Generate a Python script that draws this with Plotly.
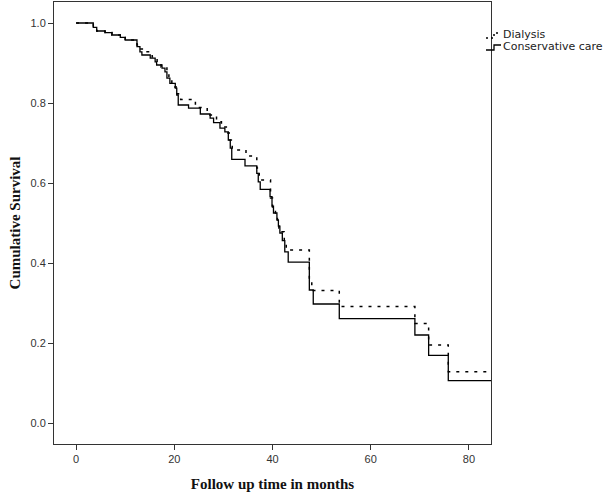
import plotly.graph_objects as go

# Kaplan-Meier step data (months, cumulative survival)
time_dialysis = [0, 3.5, 4.2, 5.9, 7.3, 9.0, 10.0, 12.4, 13.0, 14.0, 15.5, 16.5, 17.3, 18.5, 18.9,
                 19.5, 20.4, 21.3, 24.3, 26.7, 28.6, 29.6, 30.6, 31.2, 31.8, 34.6, 36.8, 37.3,
                 39.6, 40.0, 40.6, 41.0, 41.3, 41.7, 42.4, 42.8, 47.5, 48.0, 53.6, 69.0, 71.8,
                 75.8, 85.0]
surv_dialysis = [1.0, 0.989, 0.98, 0.976, 0.97, 0.964, 0.9575, 0.945, 0.935, 0.928, 0.915, 0.90,
                 0.89, 0.875, 0.862, 0.84, 0.823, 0.809, 0.789, 0.77, 0.753, 0.74, 0.725, 0.7075,
                 0.6825, 0.6675, 0.6375, 0.6075, 0.5625, 0.54, 0.523, 0.50, 0.4875, 0.478, 0.455,
                 0.4325, 0.354, 0.331, 0.291, 0.249, 0.195, 0.128, 0.128]

time_conservative = [0, 3.5, 4.2, 5.9, 7.3, 9.0, 10.0, 12.4, 13.0, 13.4, 15.1, 16.1, 16.4, 17.5,
                     18.1, 18.5, 19.1, 20.2, 20.5, 20.8, 22.9, 25.3, 27.3, 28.0, 29.3, 30.3, 31.0,
                     31.4, 31.7, 34.4, 36.8, 37.1, 37.5, 39.5, 39.9, 40.2, 40.9, 41.2, 41.5, 42.0,
                     42.5, 43.2, 47.5, 48.3, 53.6, 69.0, 71.8, 75.8, 85.0]
surv_conservative = [1.0, 0.989, 0.98, 0.976, 0.97, 0.964, 0.9575, 0.941, 0.928, 0.92, 0.912,
                     0.903, 0.895, 0.887, 0.878, 0.862, 0.849, 0.837, 0.82, 0.795, 0.787, 0.7725,
                     0.762, 0.751, 0.737, 0.728, 0.7075, 0.687, 0.659, 0.643, 0.624, 0.603, 0.584,
                     0.566, 0.542, 0.525, 0.508, 0.492, 0.475, 0.456, 0.428, 0.402, 0.3325, 0.2975,
                     0.261, 0.22, 0.169, 0.106, 0.106]

x_ticks = [0, 20, 40, 60, 80]
y_ticks = [0.0, 0.2, 0.4, 0.6, 0.8, 1.0]
series_names = ["Dialysis", "Conservative care"]

W, H = 615, 494
L, R, T, B = 54, 124, 2, 50
pw, ph = W - L - R, H - T - B


def px(xp):
    return (xp - L) / pw


def py(yp):
    return (H - B - yp) / ph


fig = go.Figure()
fig.add_trace(go.Scatter(x=time_dialysis, y=surv_dialysis, mode="lines", name=series_names[0],
                         line=dict(shape="hv", color="black", width=1.5, dash="3px,6px"),
                         showlegend=False))
fig.add_trace(go.Scatter(x=time_conservative, y=surv_conservative, mode="lines",
                         name=series_names[1],
                         line=dict(shape="hv", color="black", width=1.3),
                         showlegend=False))

# manual SPSS-like legend
ly1, ly2 = 35, 47
fig.add_shape(type="path", xref="paper", yref="paper",
              path=f"M {px(486)},{py(ly1+3)} L {px(494)},{py(ly1+3)} L {px(494)},{py(ly1-2)} L {px(501)},{py(ly1-2)}",
              line=dict(color="black", width=1.5, dash="2px,3px"))
fig.add_shape(type="path", xref="paper", yref="paper",
              path=f"M {px(486)},{py(ly2+3)} L {px(494)},{py(ly2+3)} L {px(494)},{py(ly2-2)} L {px(501)},{py(ly2-2)}",
              line=dict(color="black", width=1.3))
for name, yy in zip(series_names, [ly1, ly2]):
    fig.add_annotation(x=px(501), y=py(yy), xref="paper", yref="paper", text=name,
                       showarrow=False, xanchor="left", yanchor="middle",
                       font=dict(family="DejaVu Sans", size=11, color="#222"))

axis_common = dict(showline=True, linecolor="#333", linewidth=1, mirror=True,
                   ticks="outside", ticklen=5, tickcolor="#333", tickwidth=1,
                   showgrid=False, zeroline=False,
                   tickfont=dict(family="Liberation Sans, Arial", size=11, color="#333"))

fig.update_xaxes(range=[-4.5, 84.5], tickvals=x_ticks,
                 title=dict(text="<b>Follow up time in months</b>", standoff=14,
                            font=dict(family="Liberation Serif, Times New Roman", size=15,
                                      color="#111")),
                 **axis_common)
fig.update_yaxes(range=[-0.0525, 1.0525], tickvals=y_ticks, tickformat=".1f",
                 title=dict(text="<b>Cumulative Survival</b>", standoff=6,
                            font=dict(family="Liberation Serif, Times New Roman", size=15,
                                      color="#111")),
                 **axis_common)

fig.update_layout(width=W, height=H, margin=dict(l=L, r=R, t=T, b=B),
                  plot_bgcolor="white", paper_bgcolor="white", showlegend=False)

fig.write_html("out.html", config={"displayModeBar": False},
               post_script="document.body.style.margin='0';")
